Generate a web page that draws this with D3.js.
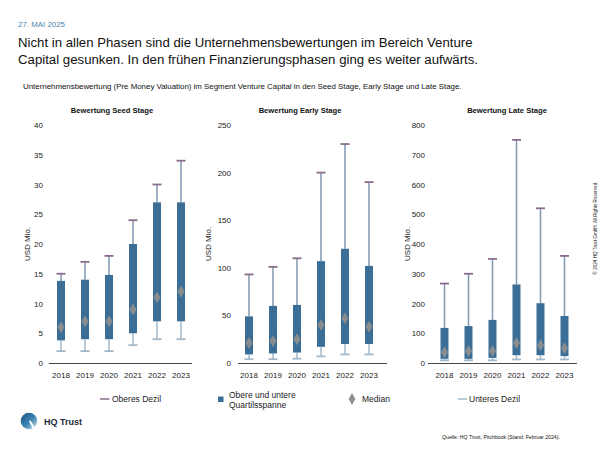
<!DOCTYPE html>
<html><head><meta charset="utf-8">
<script src="https://cdn.jsdelivr.net/npm/d3@7"></script>
<style>
html,body{margin:0;padding:0;background:#fff;}
svg{display:block;font-family:"Liberation Sans",Arial,Helvetica,sans-serif;}
</style></head>
<body>
<svg id="c" width="600" height="450"></svg>
<script>
// ---------- data ----------
const years = ["2018","2019","2020","2021","2022","2023"];

const seedUpper  = [15, 17, 18, 24, 30, 34];
const seedQ3     = [13.8, 14, 14.8, 20, 27, 27];
const seedMedian = [6, 7, 7, 9, 11, 12];
const seedQ1     = [3.8, 4, 4, 5, 7, 7];
const seedLower  = [2, 2, 2, 3, 4, 4];

const earlyUpper  = [93, 101, 110, 200, 230, 190];
const earlyQ3     = [49, 60, 61, 107, 120, 102];
const earlyMedian = [21, 23, 25, 40, 47, 38];
const earlyQ1     = [9, 10, 11, 17, 20, 20];
const earlyLower  = [4, 4, 4.5, 7, 9, 9];

const lateUpper  = [267, 300, 350, 750, 520, 360];
const lateQ3     = [118, 124, 145, 264, 201, 158];
const lateMedian = [36, 40, 40, 67, 60, 50];
const lateQ1     = [14, 14, 17, 26, 26, 23];
const lateLower  = [9, 9, 9, 12, 12, 12];

const seedTicks  = [0,5,10,15,20,25,30,35,40];
const earlyTicks = [0,50,100,150,200,250];
const lateTicks  = [0,100,200,300,400,500,600,700,800];

const chartTitles = ["Bewertung Seed Stage","Bewertung Early Stage","Bewertung Late Stage"];
const legendLabels = ["Oberes Dezil","Obere und untere|Quartilsspanne","Median","Unteres Dezil"];

// ---------- styles ----------
const C = {
  box:"#3b6e97", upStem:"#7f99b1", upCap:"#8a6c8c", lowStem:"#a3b9ca", lowCap:"#a3b9ca",
  median:"#8e8e8e", axis:"#444", text:"#222", date:"#4d86ad"
};

const svg = d3.select("#c");

function fit(sel, w){
  const n = sel.node(); const cur = n.getComputedTextLength();
  const fs = parseFloat(sel.attr("font-size"));
  sel.attr("font-size", (fs*w/cur).toFixed(2));
  return sel;
}

// ---------- header ----------
fit(svg.append("text").attr("x",18).attr("y",24).attr("dominant-baseline","central")
  .attr("font-size",9).attr("fill",C.date).text("27. MAI 2025"), 47);
fit(svg.append("text").attr("x",18).attr("y",42).attr("dominant-baseline","central")
  .attr("font-size",16).attr("fill","#111")
  .text("Nicht in allen Phasen sind die Unternehmensbewertungen im Bereich Venture"), 455);
fit(svg.append("text").attr("x",18).attr("y",59.5).attr("dominant-baseline","central")
  .attr("font-size",16).attr("fill","#111")
  .text("Capital gesunken. In den frühen Finanzierungsphasen ging es weiter aufwärts."), 460);
fit(svg.append("text").attr("x",23).attr("y",86).attr("dominant-baseline","central")
  .attr("font-size",8).attr("fill","#111")
  .text("Unternehmensbewertung (Pre Money Valuation) im Segment Venture Capital in den Seed Stage, Early Stage und Late Stage."), 439);

// ---------- charts ----------
const charts = [
  {title:chartTitles[0], titleX:112, x0:49,    ax0:49,  ax1:192, tickX:43,  labX:27,  ticks:seedTicks,
   up:seedUpper, q3:seedQ3, med:seedMedian, q1:seedQ1, low:seedLower},
  {title:chartTitles[1], titleX:300, x0:237,   ax0:238, ax1:387, tickX:231, labX:208, ticks:earlyTicks,
   up:earlyUpper, q3:earlyQ3, med:earlyMedian, q1:earlyQ1, low:earlyLower},
  {title:chartTitles[2], titleX:507, x0:432.5, ax0:428, ax1:577, tickX:425, labX:407, ticks:lateTicks,
   up:lateUpper, q3:lateQ3, med:lateMedian, q1:lateQ1, low:lateLower}
];

const yTop = 125, yBot = 363;
charts.forEach(ch => {
  const g = svg.append("g");
  const y = d3.scaleLinear().domain([0, d3.max(ch.ticks)]).range([yBot, yTop]);
  const x = d3.scaleBand().domain(years).range([ch.x0, ch.x0 + 144]);
  const cx = d => x(d) + x.bandwidth()/2;

  g.append("text").attr("x",ch.titleX).attr("y",110).attr("text-anchor","middle")
    .attr("dominant-baseline","central").attr("font-size",7.6).attr("font-weight","bold")
    .attr("fill","#111").text(ch.title);

  const ya = g.append("g").attr("transform",`translate(${ch.tickX},0)`)
    .call(d3.axisLeft(y).tickValues(ch.ticks).tickSize(0).tickPadding(0));
  ya.select(".domain").remove();
  ya.selectAll("text").attr("font-size",8).attr("fill",C.text).attr("font-family",null);

  g.append("text").attr("transform",`translate(${ch.labX},244) rotate(-90)`)
    .attr("text-anchor","middle").attr("dominant-baseline","central")
    .attr("font-size",8).attr("fill",C.text).text("USD Mio.");

  const xa = g.append("g").attr("transform",`translate(0,${yBot})`)
    .call(d3.axisBottom(x).tickSize(0).tickPadding(9));
  xa.select(".domain").remove();
  xa.selectAll("text").attr("font-size",8).attr("fill",C.text).attr("font-family",null);
  g.append("line").attr("x1",ch.ax0).attr("x2",ch.ax1).attr("y1",yBot+0.5).attr("y2",yBot+0.5)
    .attr("stroke",C.axis).attr("stroke-width",1);

  years.forEach((yr, i) => {
    const c = cx(yr);
    g.append("line").attr("x1",c).attr("x2",c).attr("y1",y(ch.q3[i])).attr("y2",y(ch.up[i]))
      .attr("stroke",C.upStem).attr("stroke-width",1.5);
    g.append("line").attr("x1",c).attr("x2",c).attr("y1",y(ch.q1[i])).attr("y2",y(ch.low[i]))
      .attr("stroke",C.lowStem).attr("stroke-width",1.5);
    g.append("line").attr("x1",c-4.5).attr("x2",c+4.5).attr("y1",y(ch.up[i])).attr("y2",y(ch.up[i]))
      .attr("stroke",C.upCap).attr("stroke-width",1.8);
    g.append("line").attr("x1",c-4.5).attr("x2",c+4.5).attr("y1",y(ch.low[i])).attr("y2",y(ch.low[i]))
      .attr("stroke",C.lowCap).attr("stroke-width",1.8);
    g.append("rect").attr("x",c-4).attr("width",8).attr("y",y(ch.q3[i]))
      .attr("height",y(ch.q1[i]) - y(ch.q3[i])).attr("fill",C.box);
    g.append("path").attr("d",d3.symbol(d3.symbolDiamond,42)())
      .attr("transform",`translate(${c},${y(ch.med[i])})`).attr("fill",C.median).attr("opacity",0.92);
  });
});

// ---------- legend ----------
const lg = svg.append("g");
const ly = 399;
lg.append("line").attr("x1",100).attr("x2",109.5).attr("y1",ly).attr("y2",ly).attr("stroke",C.upCap).attr("stroke-width",1.5);
lg.append("text").attr("x",112).attr("y",ly).attr("dominant-baseline","central").attr("font-size",8.5).attr("fill",C.text).text(legendLabels[0]);
lg.append("rect").attr("x",218).attr("y",ly-2.5).attr("width",5.5).attr("height",5.5).attr("fill",C.box);
const ql = legendLabels[1].split("|");
lg.append("text").attr("x",229).attr("y",ly-4.5).attr("dominant-baseline","central").attr("font-size",8.5).attr("fill",C.text).text(ql[0]);
lg.append("text").attr("x",229).attr("y",ly+5.5).attr("dominant-baseline","central").attr("font-size",8.5).attr("fill",C.text).text(ql[1]);
lg.append("path").attr("d",d3.symbol(d3.symbolDiamond,40)()).attr("transform",`translate(352,${ly})`).attr("fill",C.median);
lg.append("text").attr("x",362).attr("y",ly).attr("dominant-baseline","central").attr("font-size",8.5).attr("fill",C.text).text(legendLabels[2]);
lg.append("line").attr("x1",458).attr("x2",467).attr("y1",ly).attr("y2",ly).attr("stroke",C.lowStem).attr("stroke-width",1.5);
lg.append("text").attr("x",469).attr("y",ly).attr("dominant-baseline","central").attr("font-size",8.5).attr("fill",C.text).text(legendLabels[3]);

// ---------- logo ----------
const defs = svg.append("defs");
const gr = defs.append("linearGradient").attr("id","lg1").attr("x1","0").attr("y1","0").attr("x2","1").attr("y2","1");
gr.append("stop").attr("offset","0").attr("stop-color","#15507d");
gr.append("stop").attr("offset","0.55").attr("stop-color","#3f86b3");
gr.append("stop").attr("offset","1").attr("stop-color","#e6eff6");
const logo = svg.append("g").attr("transform","translate(29,421)");
logo.append("circle").attr("r",8.3).attr("fill","url(#lg1)");
logo.append("path").attr("d","M0,0 L5,10 L7.5,9 L1.5,-0.5 Z").attr("fill","#fff");
svg.append("text").attr("x",44).attr("y",422).attr("dominant-baseline","central")
  .attr("font-size",9).attr("font-weight","bold").attr("fill","#1a2a3a").text("HQ Trust");

// ---------- footer ----------
fit(svg.append("text").attr("x",442).attr("y",437).attr("dominant-baseline","central")
  .attr("font-size",5.5).attr("fill","#111").text("Quelle: HQ Trust, Pitchbook (Stand: Februar 2024)."), 118);
const cp = svg.append("text").attr("transform","translate(595,228) rotate(-90)")
  .attr("text-anchor","middle").attr("dominant-baseline","central")
  .attr("font-size",4.6).attr("fill","#222").text("© 2024 HQ Trust GmbH. All Rights Reserved.");
</script>
</body></html>
